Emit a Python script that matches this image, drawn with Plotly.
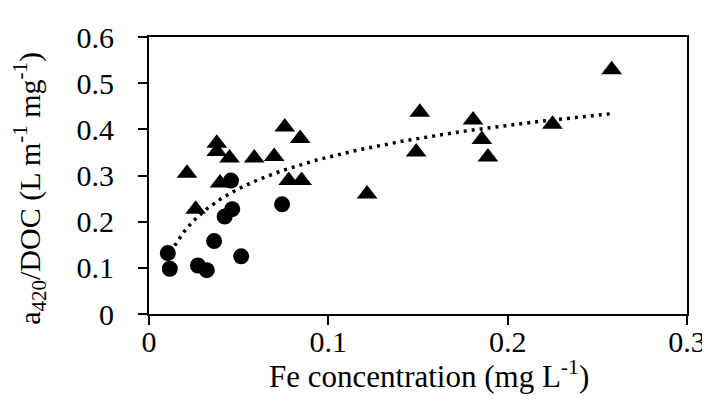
import numpy as np
import plotly.graph_objects as go

# Circles (first group)
circle_fe = [0.0105, 0.0116, 0.0273, 0.0322, 0.0363, 0.0422, 0.0464, 0.0457, 0.0514, 0.0742]
circle_a420 = [0.132, 0.098, 0.105, 0.095, 0.158, 0.211, 0.227, 0.289, 0.125, 0.2375]

# Triangles (second group)
tri_fe = [0.0212, 0.0260, 0.0378, 0.0378, 0.0449, 0.0396, 0.0587, 0.0698, 0.0757, 0.0843,
          0.0779, 0.0851, 0.1510, 0.1490, 0.1216, 0.1807, 0.1856, 0.1890, 0.2250, 0.2580]
tri_a420 = [0.305, 0.227, 0.370, 0.352, 0.338, 0.284, 0.338, 0.341, 0.405, 0.380,
            0.289, 0.289, 0.437, 0.351, 0.260, 0.420, 0.378, 0.340, 0.411, 0.529]

x_ticks = [0, 0.1, 0.2, 0.3]
x_labels = ["0", "0.1", "0.2", "0.3"]
y_ticks = [0, 0.1, 0.2, 0.3, 0.4, 0.5, 0.6]
y_labels = ["0", "0.1", "0.2", "0.3", "0.4", "0.5", "0.6"]

# Logarithmic trendline fitted on all points (as in the original chart)
all_x = np.array(circle_fe + tri_fe)
all_y = np.array(circle_a420 + tri_a420)
a, b = np.polyfit(np.log(all_x), all_y, 1)
tx = np.geomspace(all_x.min(), all_x.max(), 200)
ty = a * np.log(tx) + b

FONT = "Liberation Serif"
FS = 30

fig = go.Figure()
fig.add_trace(go.Scatter(x=tx, y=ty, mode="lines",
                         line=dict(color="black", width=3.5, dash="3px,5px"),
                         hoverinfo="skip", showlegend=False))
fig.add_trace(go.Scatter(x=circle_fe, y=circle_a420, mode="markers",
                         marker=dict(symbol="circle", size=16, color="black"),
                         showlegend=False))
fig.add_trace(go.Scatter(x=tri_fe, y=tri_a420, mode="markers",
                         marker=dict(symbol="triangle-up", size=18, color="black"),
                         showlegend=False))

axis_common = dict(showgrid=False, zeroline=False, showline=True, linecolor="black",
                   linewidth=2, mirror=True, ticks="outside", ticklen=9, tickwidth=2,
                   tickcolor="black", tickfont=dict(family=FONT, size=FS, color="black"))

fig.update_xaxes(range=[0, 0.3], tickvals=x_ticks, ticktext=x_labels,
                 ticklabelstandoff=-9, **axis_common)
fig.update_yaxes(range=[0, 0.6], tickvals=y_ticks, ticktext=y_labels,
                 ticklabelstandoff=18, **axis_common)

# Axis titles as annotations (positioned like the original)
fig.add_annotation(text="Fe concentration (mg L<sup>-1</sup>)", xref="paper", yref="paper",
                   x=0.521, y=-0.14, xanchor="center", yanchor="top", showarrow=False,
                   font=dict(family=FONT, size=31, color="black"))
fig.add_annotation(text="a<sub>420</sub>/DOC (L m<sup>-1</sup> mg<sup>-1</sup>)",
                   xref="paper", yref="paper", x=-0.222, y=0.454, textangle=-90,
                   xanchor="center", yanchor="middle", showarrow=False,
                   font=dict(family=FONT, size=FS, color="black"))

fig.update_layout(width=710, height=402, margin=dict(l=141, r=24, t=17, b=96),
                  plot_bgcolor="white", paper_bgcolor="white", showlegend=False)

fig.write_html("out.html")
